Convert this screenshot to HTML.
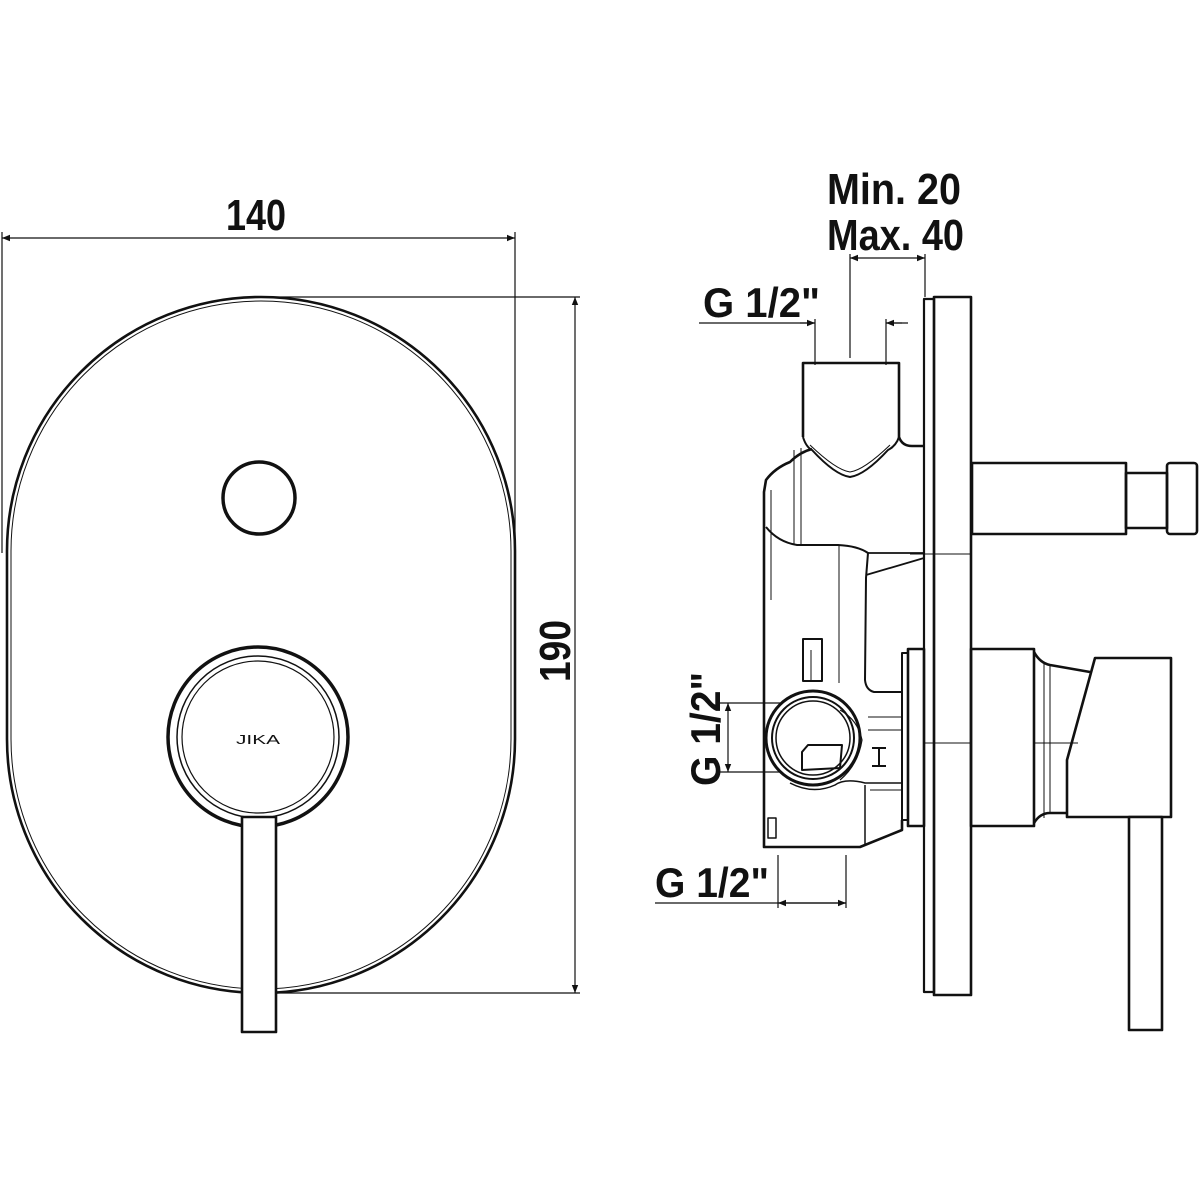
<!DOCTYPE html>
<html><head><meta charset="utf-8"><style>html,body{margin:0;padding:0;background:#fff}svg{display:block}</style></head>
<body>
<svg width="1200" height="1200" viewBox="0 0 1200 1200" xmlns="http://www.w3.org/2000/svg">
<defs>
<marker id="a" viewBox="0 0 10 10" refX="10" refY="5" markerWidth="12" markerHeight="8" markerUnits="userSpaceOnUse" orient="auto-start-reverse"><path d="M0,1 L10,5 L0,9 z" fill="#111"/></marker>
</defs>
<g font-family="Liberation Sans, sans-serif" font-weight="bold" fill="#111">
<text x="226" y="230" font-size="44" textLength="60" lengthAdjust="spacingAndGlyphs">140</text>
<text x="827" y="204" font-size="44" textLength="134" lengthAdjust="spacingAndGlyphs">Min. 20</text>
<text x="827" y="250" font-size="44" textLength="137" lengthAdjust="spacingAndGlyphs">Max. 40</text>
<text x="703" y="317" font-size="42" textLength="117" lengthAdjust="spacingAndGlyphs">G 1/2"</text>
<text x="655" y="897" font-size="42" textLength="114" lengthAdjust="spacingAndGlyphs">G 1/2"</text>
<text transform="translate(720,786) rotate(-90)" font-size="42" textLength="114" lengthAdjust="spacingAndGlyphs">G 1/2"</text>
<text transform="translate(570,682) rotate(-90)" font-size="44" textLength="62" lengthAdjust="spacingAndGlyphs">190</text>
<text x="236" y="744" font-size="13" font-weight="normal" textLength="44" lengthAdjust="spacingAndGlyphs">JIKA</text>
</g>
<g stroke="#111" fill="none" stroke-width="1.2">
<line x1="2" y1="238" x2="515" y2="238" marker-start="url(#a)" marker-end="url(#a)"/>
<line x1="2" y1="232" x2="2" y2="553"/>
<line x1="515" y1="232" x2="515" y2="553"/>
<line x1="259" y1="297" x2="580" y2="297"/>
<line x1="260" y1="993" x2="580" y2="993"/>
<line x1="575" y1="297" x2="575" y2="993" marker-start="url(#a)" marker-end="url(#a)"/>
<line x1="850" y1="258" x2="925" y2="258" marker-start="url(#a)" marker-end="url(#a)"/>
<line x1="850" y1="254" x2="850" y2="358"/>
<line x1="925" y1="254" x2="925" y2="297"/>
<line x1="699" y1="323" x2="815" y2="323"/>
<line x1="886" y1="323" x2="908" y2="323"/>
<line x1="800" y1="323" x2="815" y2="323" marker-end="url(#a)"/>
<line x1="902" y1="323" x2="886" y2="323" marker-end="url(#a)"/>
<line x1="815" y1="319" x2="815" y2="365"/>
<line x1="886" y1="319" x2="886" y2="365"/>
<line x1="728" y1="703" x2="728" y2="772" marker-start="url(#a)" marker-end="url(#a)"/>
<line x1="720" y1="703" x2="813" y2="703"/>
<line x1="720" y1="772" x2="813" y2="772"/>
<line x1="655" y1="903" x2="846" y2="903"/>
<line x1="778" y1="903" x2="846" y2="903" marker-start="url(#a)" marker-end="url(#a)"/>
<line x1="778" y1="855" x2="778" y2="908"/>
<line x1="846" y1="855" x2="846" y2="908"/>
</g>
<g stroke="#111" fill="none" stroke-width="2.6" stroke-linejoin="round">
<rect x="7" y="297" width="508" height="696" rx="254" ry="254"/>
<rect x="11" y="301" width="500" height="688" rx="250" ry="250" stroke-width="1"/>
<circle cx="259" cy="498" r="36" stroke-width="3.5"/>
<circle cx="258" cy="737" r="90" stroke-width="3.5"/>
<circle cx="258" cy="737" r="81" stroke-width="1.5"/>
<circle cx="258" cy="737" r="76" stroke-width="1.2"/>
<rect x="242" y="817" width="34" height="215" fill="#fff"/>
<rect x="924" y="299" width="10" height="693" stroke-width="2.2"/>
<rect x="934" y="297" width="37" height="698" stroke-width="2.6"/>
<line x1="910" y1="554" x2="971" y2="554" stroke-width="1"/>
<line x1="924" y1="743" x2="971" y2="743" stroke-width="1"/>
<rect x="972" y="463" width="154" height="71"/>
<rect x="1126" y="473" width="41" height="55"/>
<rect x="1167" y="463" width="30" height="71" rx="3"/>
<path d="M803,437 L803,363 L899,363 L899,437 Q902,446 912,446 L924,446"/>
<path d="M803,437 Q806,447 812,450 Q835,475 850,477 Q865,475 888,450 Q896,446 899,437" stroke-width="2"/>
<path d="M810,445 Q836,470 850,472 Q864,470 890,445" stroke-width="1"/>
<path d="M812,449 Q800,452 790,462 Q775,468 766,480 L764,492 L764,847 L860,847 L902,830 L902,820"/>
<line x1="794" y1="450" x2="794" y2="545" stroke-width="1"/>
<line x1="801" y1="448" x2="801" y2="545" stroke-width="1"/>
<path d="M766,527 Q778,542 797,545 L838,545 Q858,546 868,553 L866,578 L865,680 Q866,690 874,692 L902,692" stroke-width="2"/>
<path d="M868,553 L924,553 M866,575 L924,558" stroke-width="1.8"/>
<line x1="839" y1="545" x2="839" y2="683" stroke-width="1"/>
<line x1="771" y1="490" x2="771" y2="600" stroke-width="1"/>
<rect x="803" y="639" width="19" height="42" stroke-width="2"/>
<line x1="811" y1="650" x2="811" y2="680" stroke-width="1"/>
<circle cx="813" cy="738" r="47" fill="#fff" stroke-width="3"/>
<circle cx="813" cy="738" r="41" stroke-width="2"/>
<circle cx="813" cy="738" r="37" stroke-width="1.5"/>
<path d="M802,752 L808,745 L842,745 L840,768 L802,770 Z" stroke-width="2"/>
<path d="M840,710 Q858,720 862,740 Q858,765 840,780" stroke-width="1.2"/>
<path d="M790,783 Q813,795 835,785 Q845,778 865,783 L902,783" stroke-width="1.5"/>
<path d="M868,717 L902,717 M868,730 L902,730 M870,790 L902,790" stroke-width="1"/>
<path d="M872,748 L886,748 M879,748 L879,766 M872,766 L886,766" stroke-width="2"/>
<line x1="865" y1="785" x2="865" y2="845" stroke-width="1.5"/>
<rect x="768" y="818" width="8" height="20" stroke-width="1.5"/>
<rect x="902" y="653" width="6" height="167" stroke-width="2"/>
<rect x="908" y="649" width="16" height="177"/>
<rect x="971" y="649" width="63" height="177"/>
<path d="M1034,652 Q1040,663 1050,665 L1090,672"/>
<path d="M1034,823 Q1040,813 1050,813 L1067,813"/>
<line x1="1050" y1="665" x2="1050" y2="813" stroke-width="1"/>
<line x1="1044" y1="662" x2="1044" y2="818" stroke-width="1"/>
<path d="M1095,658 L1171,658 L1171,817 L1067,817 L1067,760 Z"/>
<line x1="1034" y1="743" x2="1078" y2="743" stroke-width="1"/>
<rect x="1129" y="817" width="33" height="213" fill="#fff"/>
</g>
</svg>
</body></html>
